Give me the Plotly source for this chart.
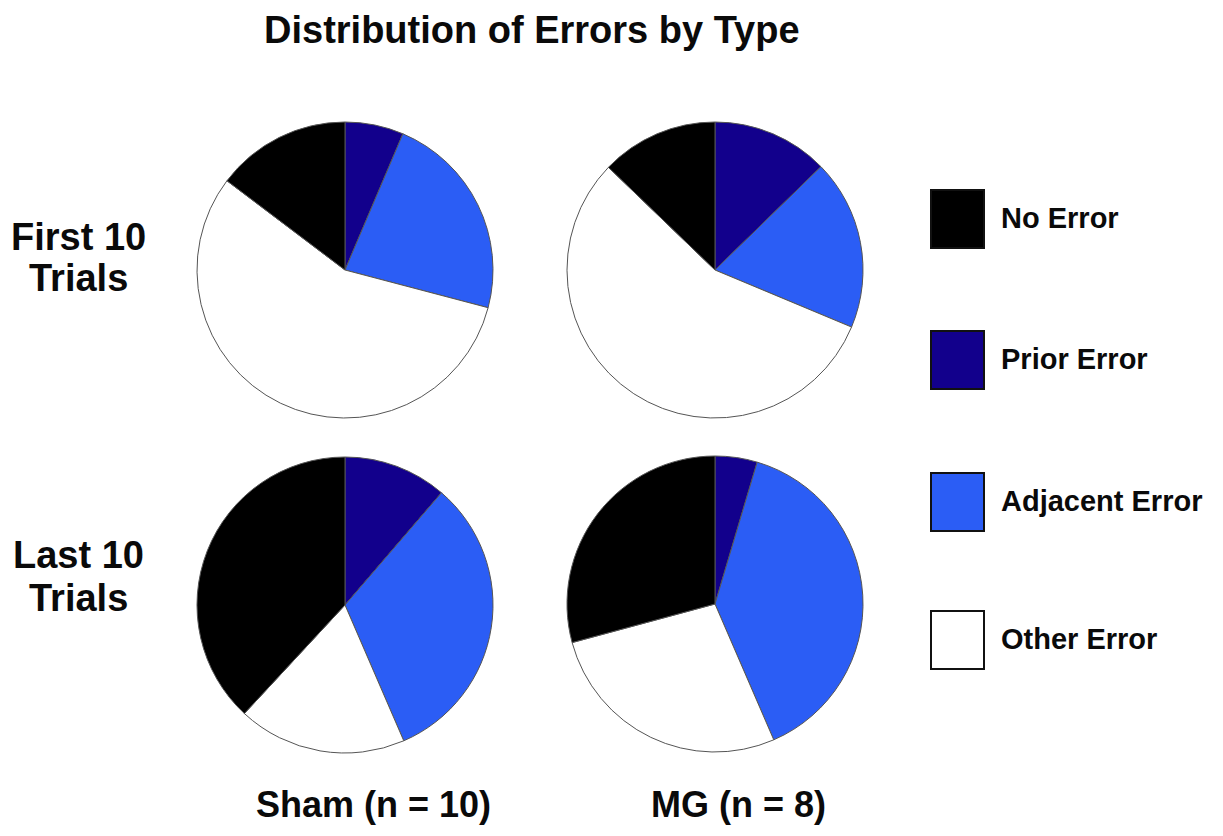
import plotly.graph_objects as go

# ---- data (percent of trials) ----
categories = ["Prior Error", "Adjacent Error", "Other Error", "No Error"]
sham_first = [6.4, 22.7, 56.2, 14.7]
mg_first = [12.7, 18.6, 55.9, 12.8]
sham_last = [11.3, 32.2, 18.4, 38.1]
mg_last = [4.6, 38.9, 27.3, 29.2]

legend_order = ["No Error", "Prior Error", "Adjacent Error", "Other Error"]
row_labels = [["First 10", "Trials"], ["Last 10", "Trials"]]
col_labels = ["Sham (n = 10)", "MG (n = 8)"]
title = "Distribution of Errors by Type"

colors = {
    "No Error": "#000000",
    "Prior Error": "#12008c",
    "Adjacent Error": "#2b5df5",
    "Other Error": "#ffffff",
}

W, H = 1223, 836
OFF = 8  # page body margin
FW, FH = W - 2 * OFF, H - 2 * OFF
FONT = "Liberation Sans, Arial, Helvetica, sans-serif"


def px(x):
    return (x - OFF) / FW


def py(y):
    return 1 - (y - OFF) / FH


pies = [
    (sham_first, 345, 270),
    (mg_first, 715, 270),
    (sham_last, 345, 605),
    (mg_last, 715, 604),
]
R = 148

fig = go.Figure()
for vals, cx, cy in pies:
    fig.add_trace(go.Pie(
        labels=categories,
        values=vals,
        sort=False,
        direction="clockwise",
        rotation=0,
        textinfo="none",
        hoverinfo="label+percent",
        showlegend=False,
        marker=dict(colors=[colors[c] for c in categories],
                    line=dict(color="#555555", width=1)),
        domain=dict(x=[px(cx - R), px(cx + R)], y=[py(cy + R), py(cy - R)]),
    ))

annotations = []
TXT = "#0a0a0a"
# title
annotations.append(dict(x=px(532), y=py(30), text="<b>" + title + "</b>",
                        showarrow=False, xref="paper", yref="paper",
                        xanchor="center", yanchor="middle",
                        font=dict(size=38, color=TXT, family=FONT)))
# row labels
row_y = [(237, 278), (555, 598)]
for lines, ys in zip(row_labels, row_y):
    for t, yy in zip(lines, ys):
        annotations.append(dict(x=px(78), y=py(yy), text="<b>" + t + "</b>",
                                showarrow=False, xref="paper", yref="paper",
                                xanchor="center", yanchor="middle",
                                font=dict(size=38, color=TXT, family=FONT)))
# column labels
for t, xx in zip(col_labels, [373, 738]):
    annotations.append(dict(x=px(xx), y=py(804), text="<b>" + t + "</b>",
                            showarrow=False, xref="paper", yref="paper",
                            xanchor="center", yanchor="middle",
                            font=dict(size=36, color=TXT, family=FONT)))

# legend (squares + text)
shapes = []
leg_y = [219, 360, 502, 640]
for name, yy in zip(legend_order, leg_y):
    shapes.append(dict(type="rect", xref="paper", yref="paper",
                       x0=px(931), x1=px(984), y0=py(yy + 29), y1=py(yy - 29),
                       fillcolor=colors[name], line=dict(color="#111111", width=2)))
    annotations.append(dict(x=px(999), y=py(yy - 1), text="<b>" + name + "</b>",
                            showarrow=False, xref="paper", yref="paper",
                            xanchor="left", yanchor="middle",
                            font=dict(size=29, color=TXT, family=FONT)))

fig.update_layout(
    width=FW, height=FH,
    margin=dict(l=0, r=0, t=0, b=0),
    paper_bgcolor="white", plot_bgcolor="white",
    annotations=annotations, shapes=shapes,
    showlegend=False,
)

fig.write_html("out.html")
